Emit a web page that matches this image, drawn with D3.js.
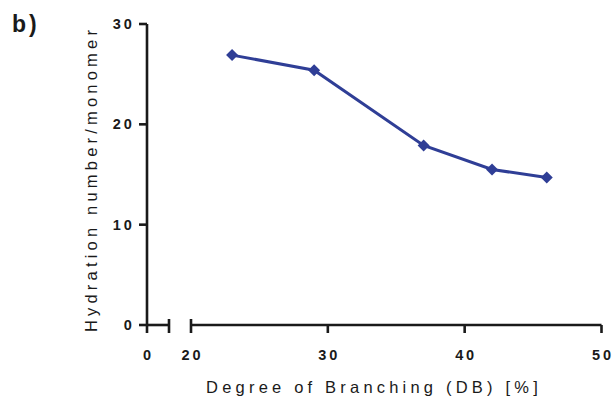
<!DOCTYPE html>
<html>
<head>
<meta charset="utf-8">
<script src="https://cdn.jsdelivr.net/npm/d3@7"></script>
<style>
  body { margin: 0; background: #fff; }
  svg text { font-family: "Liberation Sans", Arial, sans-serif; fill: #1a1a1a; }
  .tick-label { font-size: 14.5px; font-weight: bold; letter-spacing: 2.8px; }
  .axis-title { font-size: 16.5px; letter-spacing: 4.2px; }
</style>
</head>
<body>
<svg id="chart" width="614" height="400"></svg>
<script>
// data
var branching = [23, 29, 37, 42, 46];
var hydration = [26.9, 25.4, 17.9, 15.5, 14.7];
var yTicks = [0, 10, 20, 30];
var xTicksLeft = [0];
var xTicksMain = [20, 30, 40, 50];

var svg = d3.select("#chart");
var axisColor = "#1a1a1a";
var lineColor = "#2f3e96";

// broken x axis: small segment for 0, main segment 20..50
var xLeft = d3.scaleLinear().domain([0, 1.6]).range([147, 169]);
var x = d3.scaleLinear().domain([20, 50]).range([191, 601.5]);
var y = d3.scaleLinear().domain([0, 30]).range([325, 24]);

// panel label
svg.append("text")
  .attr("x", 12)
  .attr("y", 32)
  .attr("font-size", "23px")
  .attr("font-weight", "bold")
  .attr("letter-spacing", "3px")
  .text("b)");

// y axis
svg.append("line")
  .attr("x1", xLeft(0)).attr("x2", xLeft(0))
  .attr("y1", y(30)).attr("y2", y(0) + 8)
  .attr("stroke", axisColor).attr("stroke-width", 2.6);

svg.selectAll(".ytick")
  .data(yTicks)
  .enter().append("line")
  .attr("class", "ytick")
  .attr("x1", xLeft(0) - 8).attr("x2", xLeft(0))
  .attr("y1", function(d){ return y(d); })
  .attr("y2", function(d){ return y(d); })
  .attr("stroke", axisColor).attr("stroke-width", 2.6);

svg.selectAll(".ylab")
  .data(yTicks)
  .enter().append("text")
  .attr("class", "tick-label")
  .attr("x", xLeft(0) - 12.5)
  .attr("y", function(d){ return y(d) + 5; })
  .attr("text-anchor", "end")
  .text(function(d){ return d; });

// x axis, left segment
svg.append("line")
  .attr("x1", xLeft(0)).attr("x2", xLeft(1.6))
  .attr("y1", y(0)).attr("y2", y(0))
  .attr("stroke", axisColor).attr("stroke-width", 2.6);
svg.append("line")
  .attr("x1", xLeft(1.6)).attr("x2", xLeft(1.6))
  .attr("y1", y(0) - 6).attr("y2", y(0) + 8)
  .attr("stroke", axisColor).attr("stroke-width", 2.6);

// x axis, main segment
svg.append("line")
  .attr("x1", x(20)).attr("x2", x(50))
  .attr("y1", y(0)).attr("y2", y(0))
  .attr("stroke", axisColor).attr("stroke-width", 2.6);
svg.append("line")
  .attr("x1", x(20)).attr("x2", x(20))
  .attr("y1", y(0) - 6).attr("y2", y(0) + 8)
  .attr("stroke", axisColor).attr("stroke-width", 2.6);
svg.selectAll(".xtick")
  .data(xTicksMain.slice(1))
  .enter().append("line")
  .attr("class", "xtick")
  .attr("x1", function(d){ return x(d); })
  .attr("x2", function(d){ return x(d); })
  .attr("y1", y(0)).attr("y2", y(0) + 8)
  .attr("stroke", axisColor).attr("stroke-width", 2.6);

// x tick labels (letter-spacing adds trailing gap, nudge by half)
svg.selectAll(".xlabL")
  .data(xTicksLeft)
  .enter().append("text")
  .attr("class", "tick-label")
  .attr("x", function(d){ return xLeft(d) + 1.4; })
  .attr("y", 360)
  .attr("text-anchor", "middle")
  .text(function(d){ return d; });

svg.selectAll(".xlab")
  .data(xTicksMain)
  .enter().append("text")
  .attr("class", "tick-label")
  .attr("x", function(d){ return x(d) + 1.4; })
  .attr("y", 360)
  .attr("text-anchor", "middle")
  .text(function(d){ return d; });

// axis titles
svg.append("text")
  .attr("class", "axis-title")
  .attr("x", 374)
  .attr("y", 392.5)
  .attr("text-anchor", "middle")
  .text("Degree of Branching (DB) [%]");

svg.append("text")
  .attr("class", "axis-title")
  .attr("transform", "translate(97," + 179 + ") rotate(-90)")
  .attr("text-anchor", "middle")
  .attr("font-size", "17px")
  .text("Hydration number/monomer");

// data line
var pts = branching.map(function(d, i){ return {x: d, y: hydration[i]}; });

svg.append("path")
  .datum(pts)
  .attr("fill", "none")
  .attr("stroke", lineColor)
  .attr("stroke-width", 3)
  .attr("d", d3.line()
    .x(function(d){ return x(d.x); })
    .y(function(d){ return y(d.y); }));

svg.selectAll(".pt")
  .data(pts)
  .enter().append("path")
  .attr("class", "pt")
  .attr("d", d3.symbol().type(d3.symbolSquare).size(72))
  .attr("transform", function(d){ return "translate(" + x(d.x) + "," + y(d.y) + ") rotate(45)"; })
  .attr("fill", lineColor);
</script>
</body>
</html>
